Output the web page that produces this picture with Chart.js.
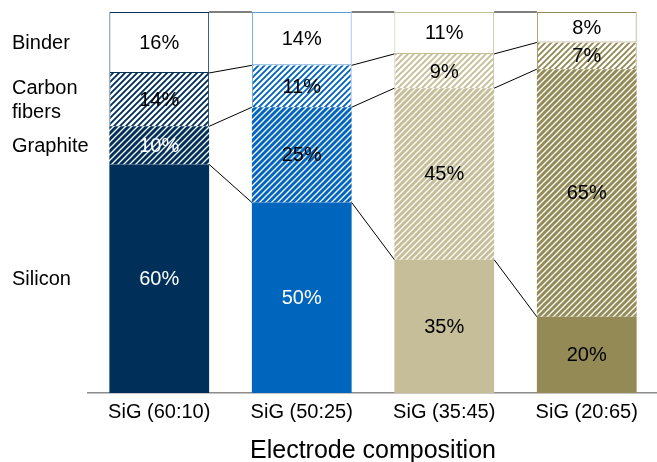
<!DOCTYPE html>
<html>
<head>
<meta charset="utf-8">
<script src="https://cdn.jsdelivr.net/npm/chart.js@4/dist/chart.umd.min.js"></script>
<style>
  html, body { margin: 0; padding: 0; background: #fff; overflow: hidden; }
  #wrap { width: 660px; height: 469px; position: relative; }
</style>
</head>
<body>
<div id="wrap"><canvas id="c"></canvas></div>
<script>
// Electrode composition (share of each component, %)
const categories = ['SiG (60:10)', 'SiG (50:25)', 'SiG (35:45)', 'SiG (20:65)'];
const seriesNames = ['Silicon', 'Graphite', 'Carbon fibers', 'Binder'];
const silicon = [60, 50, 35, 20];
const graphite = [10, 25, 45, 65];
const carbonFibers = [14, 11, 9, 7];
const binder = [16, 14, 11, 8];

// One colour family per electrode
const barColors = ['#00305A', '#0066BD', '#C5BE98', '#948A55'];
const edgeColors = ['#00305A', '#5B9BD5', '#C5BE98', '#948A55'];
// Value label colours per series (rows) and bar (columns)
const labelColors = [
  ['#ffffff', '#ffffff', '#000000', '#000000'],
  ['#ffffff', '#000000', '#000000', '#000000'],
  ['#000000', '#000000', '#000000', '#000000'],
  ['#000000', '#000000', '#000000', '#000000']
];

const FONT = '"Liberation Sans", Arial, sans-serif';

// Diagonal "/" hatch tile
function hatch(bg, fg, lw) {
  const s = 6;
  const t = document.createElement('canvas');
  t.width = s; t.height = s;
  const g = t.getContext('2d');
  g.fillStyle = bg;
  g.fillRect(0, 0, s, s);
  g.strokeStyle = fg;
  g.lineWidth = lw;
  g.beginPath();
  g.moveTo(-1, 1); g.lineTo(1, -1);
  g.moveTo(0, s); g.lineTo(s, 0);
  g.moveTo(s - 1, s + 1); g.lineTo(s + 1, s - 1);
  g.stroke();
  return g.createPattern(t, 'repeat');
}

const graphiteFill = barColors.map(c => hatch(c, '#ffffff', 1.3));
const fiberFill = barColors.map(c => hatch('#ffffff', c, 1.9));

// Connector lines between bars and value labels inside segments
const decorations = {
  id: 'decorations',
  afterDatasetsDraw(chart) {
    const ctx = chart.ctx;
    const metas = chart.data.datasets.map((d, i) => chart.getDatasetMeta(i));
    ctx.save();
    ctx.strokeStyle = '#000000';
    ctx.lineWidth = 1;
    metas.forEach(meta => {
      for (let i = 0; i < meta.data.length - 1; i++) {
        const a = meta.data[i], b = meta.data[i + 1];
        ctx.beginPath();
        ctx.moveTo(a.x + a.width / 2, a.y);
        ctx.lineTo(b.x - b.width / 2, b.y);
        ctx.stroke();
      }
    });
    ctx.font = '20px ' + FONT;
    ctx.textAlign = 'center';
    ctx.textBaseline = 'middle';
    metas.forEach((meta, s) => {
      const values = chart.data.datasets[s].data;
      meta.data.forEach((el, i) => {
        ctx.fillStyle = labelColors[s][i];
        ctx.fillText(values[i] + '%', el.x, (el.y + el.base) / 2 + 1);
      });
    });
    // Series names beside the first bar
    ctx.fillStyle = '#000000';
    ctx.textAlign = 'left';
    metas.forEach((meta, s) => {
      const el = meta.data[0];
      const cy = (el.y + el.base) / 2;
      const lines = seriesNames[s] === 'Carbon fibers' ? ['Carbon', 'fibers'] : [seriesNames[s]];
      lines.forEach((ln, k) => {
        ctx.fillText(ln, 12, cy + (k - (lines.length - 1) / 2) * 24 + 1);
      });
    });
    ctx.restore();
  }
};

new Chart(document.getElementById('c'), {
  type: 'bar',
  data: {
    labels: categories,
    datasets: [
      { label: seriesNames[0], data: silicon, backgroundColor: barColors, borderWidth: 0 },
      { label: seriesNames[1], data: graphite, backgroundColor: graphiteFill, borderWidth: 0 },
      { label: seriesNames[2], data: carbonFibers, backgroundColor: fiberFill,
        borderColor: edgeColors, borderWidth: { left: 1, right: 1, top: 0, bottom: 0 }, borderSkipped: false },
      { label: seriesNames[3], data: binder, backgroundColor: '#ffffff',
        borderColor: edgeColors, borderWidth: 1, borderSkipped: false }
    ]
  },
  options: {
    responsive: true,
    maintainAspectRatio: false,
    animation: false,
    events: [],
    layout: { padding: { left: 88, top: 12, right: 2, bottom: 3 } },
    datasets: { bar: { barPercentage: 0.70, categoryPercentage: 1.0 } },
    plugins: { legend: { display: false }, tooltip: { enabled: false } },
    scales: {
      x: {
        stacked: true,
        grid: { display: false, drawTicks: false },
        border: { display: true, color: '#8C8C8C', width: 1.5 },
        ticks: { color: '#000000', font: { family: FONT, size: 20 }, padding: 7, maxRotation: 0 },
        title: { display: true, text: 'Electrode composition', color: '#000000',
                 font: { family: FONT, size: 25 }, padding: { top: 5, bottom: 0 } }
      },
      y: {
        stacked: true,
        display: false,
        min: 0,
        max: 100
      }
    }
  },
  plugins: [decorations]
});
</script>
</body>
</html>
